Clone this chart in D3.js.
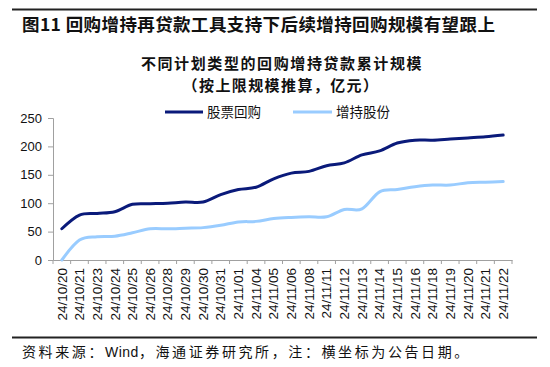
<!DOCTYPE html>
<html><head><meta charset="utf-8">
<script src="https://cdn.jsdelivr.net/npm/d3@7"></script>
<style>body{margin:0;background:#fff;}svg{display:block;}</style>
</head><body>
<script>
const categories = ["24/10/20","24/10/21","24/10/23","24/10/24","24/10/25","24/10/26","24/10/28","24/10/29","24/10/30","24/10/31","24/11/01","24/11/04","24/11/05","24/11/06","24/11/08","24/11/11","24/11/12","24/11/13","24/11/14","24/11/15","24/11/16","24/11/18","24/11/19","24/11/20","24/11/21","24/11/22"];
const buyback = [55,79,82,85,98,99,100,102,102,115,124,128,143,153,156,166,171,185,192,206,211,211,213,215,217,220];
const holding = [0,35,41,42,48,55,55,56,57,61,67,68,73,75,76,76,89,90,120,124,129,132,132,136,137,138];
const yTicks = [0,50,100,150,200,250];
const seriesNames = ["股票回购","增持股份"];
const colors = ["#0a1a7a","#99ccff"];

const W=550,H=367;
const svg=d3.select("body").append("svg").attr("width",W).attr("height",H);
const cjk="'Noto Sans CJK SC','Noto Sans',sans-serif";
const lat="'Liberation Sans',Arial,sans-serif";

svg.append("line").attr("x1",12).attr("x2",537).attr("y1",9.5).attr("y2",9.5).attr("stroke","#222").attr("stroke-width",2);
svg.append("line").attr("x1",12).attr("x2",537).attr("y1",337.5).attr("y2",337.5).attr("stroke","#222").attr("stroke-width",2);

svg.append("text").attr("x",22).attr("y",31).attr("font-family",cjk).attr("font-weight","bold").attr("font-size",17.5).attr("letter-spacing",0.4).attr("fill","#111")
  .text("图11 回购增持再贷款工具支持下后续增持回购规模有望跟上");
svg.append("text").attr("x",282).attr("y",69).attr("text-anchor","middle").attr("font-family",cjk).attr("font-weight","bold").attr("font-size",15).attr("letter-spacing",1.6).attr("fill","#111")
  .text("不同计划类型的回购增持贷款累计规模");
svg.append("text").attr("x",281).attr("y",91).attr("text-anchor","middle").attr("font-family",cjk).attr("font-weight","bold").attr("font-size",15).attr("letter-spacing",1.4).attr("fill","#111")
  .text("（按上限规模推算，亿元）");
const ft=svg.append("text").attr("x",22).attr("y",357).attr("font-family",cjk).attr("font-size",14).attr("fill","#111");
ft.append("tspan").attr("letter-spacing",2.6).text("资料来源：");
ft.append("tspan").attr("font-family",lat).attr("letter-spacing",0.5).text("Wind");
ft.append("tspan").attr("letter-spacing",2.6).text("，海通证券研究所，注：横坐标为公告日期。");

const x=d3.scaleBand().domain(categories).range([53,512]);
const y=d3.scaleLinear().domain([0,250]).range([260,118]);

const g=svg.append("g");
const ya=g.append("g").attr("transform","translate(53,0)").call(d3.axisLeft(y).tickValues(yTicks).tickSize(5).tickPadding(6));
ya.selectAll("path,line").attr("stroke","#a0a0a0");
ya.selectAll("text").attr("font-family",lat).attr("font-size",13).attr("fill","#111");
const xa=g.append("g").attr("transform","translate(0,260)").call(d3.axisBottom(x).tickSize(0).tickSizeOuter(0));
xa.select("path").attr("stroke","#a0a0a0");
xa.selectAll(".tick line").remove();
const bounds=categories.map(c=>x(c)).concat([x(categories[categories.length-1])+x.bandwidth()]);
xa.selectAll(".bt").data(bounds).join("line").attr("x1",d=>d).attr("x2",d=>d).attr("y1",0).attr("y2",4).attr("stroke","#a0a0a0");
xa.selectAll(".tick text").attr("font-family",lat).attr("font-size",13.5).attr("fill","#111")
  .attr("transform","rotate(-90)").attr("text-anchor","end").attr("x",-8).attr("y",0).attr("dy","0.35em");

const line=d3.line().x((d,i)=>x(categories[i])+x.bandwidth()/2).y(d=>y(d)).curve(d3.curveCardinal.tension(0));
[holding,buyback].forEach((s,k)=>{
  g.append("path").datum(s).attr("d",line).attr("fill","none").attr("stroke",k===0?colors[1]:colors[0]).attr("stroke-width",3).attr("stroke-linecap","round");
});

const lg=svg.append("g");
lg.append("line").attr("x1",165).attr("x2",203).attr("y1",112).attr("y2",112).attr("stroke",colors[0]).attr("stroke-width",3);
lg.append("text").attr("x",207).attr("y",117).attr("font-family",cjk).attr("font-size",13.5).attr("fill","#111").text(seriesNames[0]);
lg.append("line").attr("x1",293).attr("x2",332).attr("y1",112).attr("y2",112).attr("stroke",colors[1]).attr("stroke-width",3);
lg.append("text").attr("x",336).attr("y",117).attr("font-family",cjk).attr("font-size",13.5).attr("fill","#111").text(seriesNames[1]);
</script>
</body></html>
